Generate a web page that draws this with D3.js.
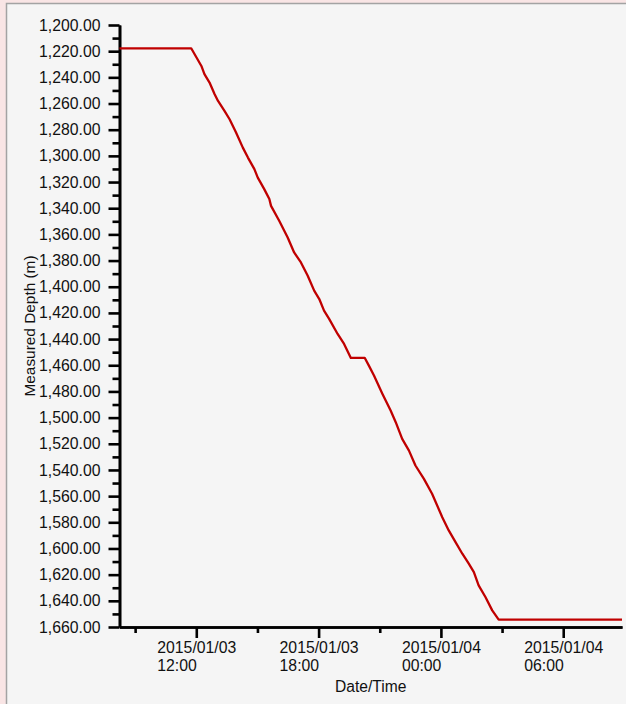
<!DOCTYPE html>
<html>
<head>
<meta charset="utf-8">
<script src="https://cdn.jsdelivr.net/npm/d3@7"></script>
<style>
  html, body { margin: 0; padding: 0; background: #f9e5e5; }
  svg { display: block; }
  text { font-family: "Liberation Sans", Arial, sans-serif; fill: #111; }
</style>
</head>
<body>
<svg id="chart" width="626" height="704"></svg>
<script>
// ---- data ----
const times = [
  "2015-01-03 08:14", "2015-01-03 11:45", "2015-01-03 12:15", "2015-01-03 12:24",
  "2015-01-03 12:39", "2015-01-03 12:54", "2015-01-03 13:04", "2015-01-03 13:23",
  "2015-01-03 13:38", "2015-01-03 13:57", "2015-01-03 14:17", "2015-01-03 14:32",
  "2015-01-03 14:51", "2015-01-03 15:01", "2015-01-03 15:20", "2015-01-03 15:35",
  "2015-01-03 15:40", "2015-01-03 16:04", "2015-01-03 16:29", "2015-01-03 16:48",
  "2015-01-03 17:08", "2015-01-03 17:28", "2015-01-03 17:47", "2015-01-03 18:02",
  "2015-01-03 18:16", "2015-01-03 18:31", "2015-01-03 18:56", "2015-01-03 19:15",
  "2015-01-03 19:35", "2015-01-03 20:16", "2015-01-03 20:28", "2015-01-03 20:43",
  "2015-01-03 21:08", "2015-01-03 21:32", "2015-01-03 21:47", "2015-01-03 22:06",
  "2015-01-03 22:26", "2015-01-03 22:45", "2015-01-03 23:10", "2015-01-03 23:34",
  "2015-01-04 00:04", "2015-01-04 00:23", "2015-01-04 00:43", "2015-01-04 01:03",
  "2015-01-04 01:22", "2015-01-04 01:37", "2015-01-04 01:51", "2015-01-04 02:11",
  "2015-01-04 02:31", "2015-01-04 02:50", "2015-01-04 08:53"
];
const depths = [
  1217.8, 1217.8, 1231.3, 1237.6,
  1244.0, 1252.9, 1258.0, 1265.6,
  1272.0, 1282.2, 1293.7, 1301.3,
  1310.1, 1316.6, 1325.4, 1333.0,
  1338.2, 1349.6, 1362.4, 1373.8,
  1381.4, 1391.6, 1403.0, 1409.4,
  1418.3, 1424.6, 1436.1, 1443.7,
  1454.4, 1454.4, 1460.3, 1467.9,
  1481.9, 1494.6, 1503.5, 1516.2,
  1525.2, 1536.6, 1546.8, 1558.2,
  1576.1, 1586.2, 1595.1, 1604.0,
  1611.6, 1618.0, 1628.2, 1637.1,
  1647.3, 1654.3, 1654.3
];
const timeDomain = ["2015-01-03 08:14", "2015-01-04 08:53"];
const depthDomain = [1200, 1660];
const yMajorTicks = d3.range(1200, 1661, 20);
const yMinorTicks = d3.range(1210, 1660, 20);
const xMajorTicks = ["2015-01-03 12:00", "2015-01-03 18:00", "2015-01-04 00:00", "2015-01-04 06:00"];
const xMinorTicks = ["2015-01-03 09:00", "2015-01-03 15:00", "2015-01-03 21:00", "2015-01-04 03:00"];
const xTitle = "Date/Time";
const yTitle = "Measured Depth (m)";

// ---- drawing ----
(function () {
const parse = d3.timeParse("%Y-%m-%d %H:%M");
const data = times.map((t, i) => ({ t: parse(t), d: depths[i] }));

const svg = d3.select("#chart");
const W = 626, H = 704;
const mLeft = 119.5, mRight = 622, mTop = 25, mBottom = 627;

svg.append("rect").attr("x", 6.5).attr("y", 3.5).attr("width", W).attr("height", H)
  .attr("fill", "#f5f5f5").attr("stroke", "#a3a3a3").attr("stroke-width", 1.5);

const x = d3.scaleTime().domain(timeDomain.map(parse)).range([mLeft, mRight]);
const y = d3.scaleLinear().domain(depthDomain).range([mTop, mBottom]);

const fs = "15.8px";

const gyMinor = svg.append("g").attr("transform", `translate(${mLeft},0)`)
  .call(d3.axisLeft(y).tickValues(yMinorTicks).tickSize(7).tickSizeOuter(0).tickFormat(""));
const gy = svg.append("g").attr("transform", `translate(${mLeft},0)`)
  .call(d3.axisLeft(y).tickValues(yMajorTicks).tickSize(11).tickSizeOuter(0)
    .tickPadding(8).tickFormat(d3.format(",.2f")));
[gyMinor, gy].forEach(g => {
  g.selectAll("path.domain").attr("stroke", "#000").attr("stroke-width", 2.6);
  g.selectAll(".tick line").attr("stroke", "#000").attr("stroke-width", 2.6);
});
gy.selectAll(".tick text").attr("font-size", fs).attr("font-family", "Liberation Sans, Arial, sans-serif").attr("fill", "#111");

const gxMinor = svg.append("g").attr("transform", `translate(0,${mBottom})`)
  .call(d3.axisBottom(x).tickValues(xMinorTicks.map(parse)).tickSize(6).tickSizeOuter(0).tickFormat(""));
const gx = svg.append("g").attr("transform", `translate(0,${mBottom})`)
  .call(d3.axisBottom(x).tickValues(xMajorTicks.map(parse)).tickSize(11).tickSizeOuter(0).tickFormat(""));
[gxMinor, gx].forEach(g => {
  g.selectAll("path.domain").attr("stroke", "#000").attr("stroke-width", 2.6);
  g.selectAll(".tick line").attr("stroke", "#000").attr("stroke-width", 2.6);
});
const fmt1 = d3.timeFormat("%Y/%m/%d"), fmt2 = d3.timeFormat("%H:%M");
gx.selectAll(".tick").each(function(d) {
  const t = d3.select(this).append("text").attr("font-size", fs).attr("fill", "#111")
    .attr("font-family", "Liberation Sans, Arial, sans-serif").attr("text-anchor", "start");
  const l1 = t.append("tspan").attr("x", 0).attr("y", 26).text(fmt1(d));
  const w = l1.node().getComputedTextLength();
  l1.attr("x", -w / 2);
  t.append("tspan").attr("x", -w / 2).attr("y", 44).text(fmt2(d));
});

svg.append("text").attr("x", (mLeft + mRight) / 2).attr("y", 692).attr("text-anchor", "middle")
  .attr("font-size", "15.6px").text(xTitle);
svg.append("text").attr("transform", `translate(35,${(mTop + mBottom) / 2}) rotate(-90)`)
  .attr("text-anchor", "middle").attr("font-size", "15.4px").text(yTitle);

svg.append("path").datum(data)
  .attr("fill", "none").attr("stroke", "#c00000").attr("stroke-width", 2.3)
  .attr("stroke-linejoin", "round")
  .attr("d", d3.line().x(p => x(p.t)).y(p => y(p.d)));
})();
</script>
</body>
</html>
